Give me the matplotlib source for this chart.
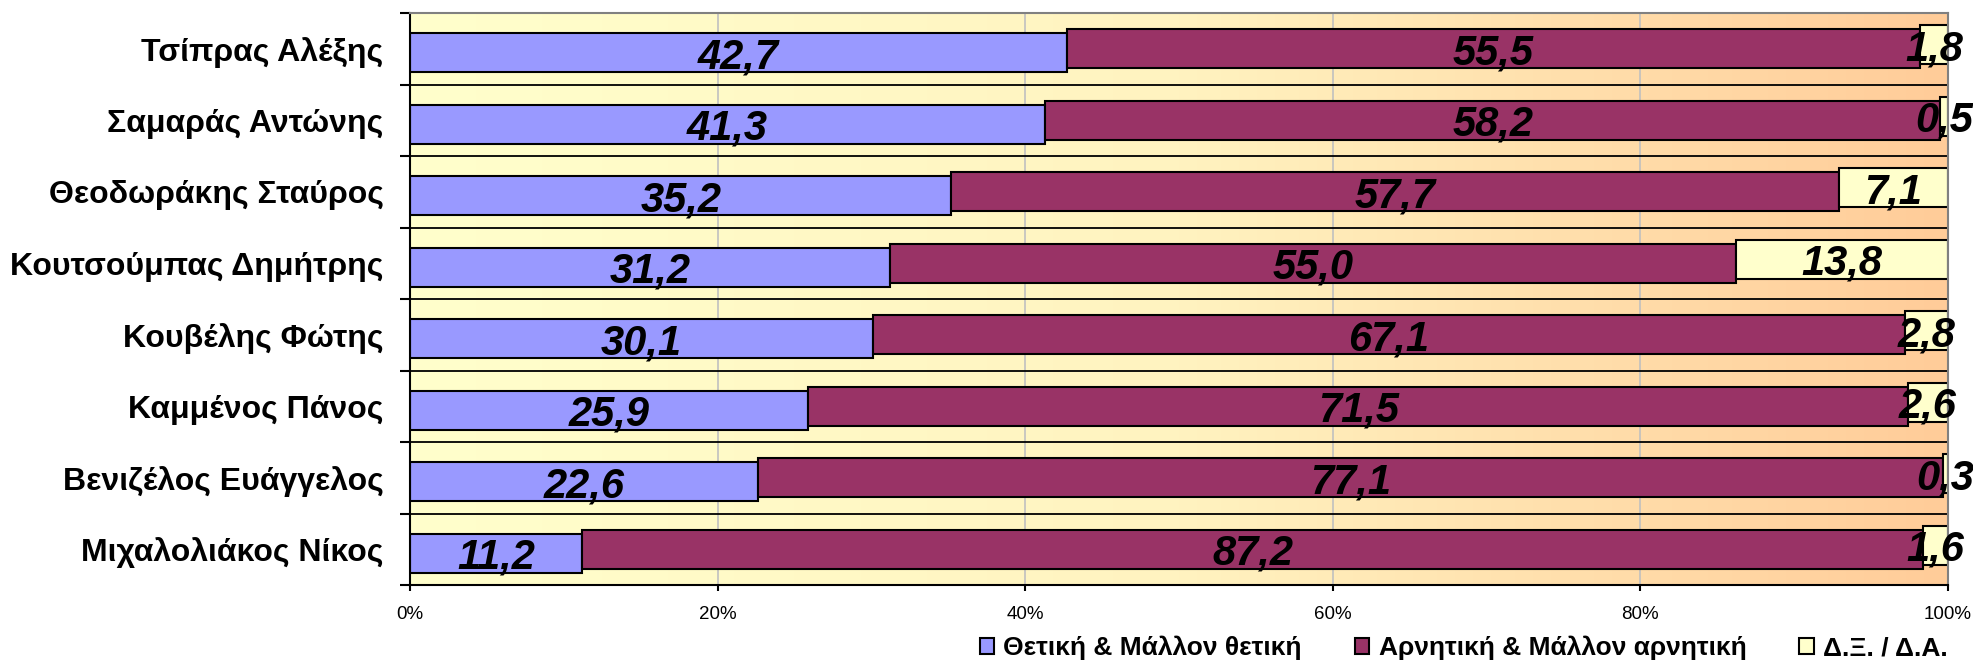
import numpy as np
import matplotlib
matplotlib.use("Agg")
import matplotlib.pyplot as plt
from matplotlib.colors import LinearSegmentedColormap

categories = ["Τσίπρας Αλέξης", "Σαμαράς Αντώνης", "Θεοδωράκης Σταύρος",
              "Κουτσούμπας Δημήτρης", "Κουβέλης Φώτης", "Καμμένος Πάνος",
              "Βενιζέλος Ευάγγελος", "Μιχαλολιάκος Νίκος"]
positive = [42.7, 41.3, 35.2, 31.2, 30.1, 25.9, 22.6, 11.2]
negative = [55.5, 58.2, 57.7, 55.0, 67.1, 71.5, 77.1, 87.2]
dk = [1.8, 0.5, 7.1, 13.8, 2.8, 2.6, 0.3, 1.6]
series_names = ["Θετική & Μάλλον θετική", "Αρνητική & Μάλλον αρνητική", "Δ.Ξ. / Δ.Α."]
colors = ["#9999FF", "#993366", "#FFFFCC"]
xticks = [0, 20, 40, 60, 80, 100]

plt.rcParams['font.family'] = ['Liberation Sans', 'DejaVu Sans']

W, H = 1973, 663
fig = plt.figure(figsize=(W / 100, H / 100), dpi=100)
ax = fig.add_axes([410 / W, 1 - 585 / H, (1948 - 410) / W, (585 - 13) / H])

n = len(categories)
y = np.arange(n)

# gradient background
cmap = LinearSegmentedColormap.from_list("bg", ["#FFFFCC", "#FFF3C0", "#FFCC99"])
grad = np.linspace(0, 1, 256).reshape(1, -1)
ax.imshow(grad, cmap=cmap, aspect='auto', extent=[0, 100, n - 0.5, -0.5], zorder=0)

for xv in xticks[1:-1]:
    ax.axvline(xv, color="#C0C0C0", lw=1.2, zorder=1)
for b in np.arange(n - 1) + 0.5:
    ax.axhline(b, color="black", lw=1.3, zorder=1)

h = 0.545
offs = [0.055, 0.0, -0.055]
data = [positive, negative, dk]
left = np.zeros(n)
for k, (vals, c) in enumerate(zip(data, colors)):
    vals = np.array(vals)
    ax.barh(y + offs[k], vals, left=left, height=h, color=c, edgecolor="black",
            linewidth=1.5, zorder=2, label=series_names[k])
    for i in range(n):
        cx = left[i] + vals[i] / 2
        ax.text(cx, y[i] + offs[k], f"{vals[i]:.1f}".replace(".", ","),
                ha="center", va="center_baseline", fontsize=30, fontweight="bold",
                fontstyle="italic", color="black", zorder=3)
    left = left + vals

ax.set_xlim(0, 100)
ax.set_ylim(n - 0.5, -0.5)
ax.set_xticks(xticks)
ax.set_xticklabels([f"{v}%" for v in xticks], fontsize=13.5)
ax.set_yticks(y)
ax.set_yticklabels(categories, fontsize=23, fontweight="bold")
ax.tick_params(axis='y', length=0, pad=19)
ax.set_yticks(np.arange(n + 1) - 0.5, minor=True)
ax.tick_params(axis='y', which='minor', length=7, width=1.5, direction='out')
ax.tick_params(axis='x', length=4, width=1.5, direction='out', pad=11)

for s in ["left", "bottom"]:
    ax.spines[s].set_color("black")
    ax.spines[s].set_linewidth(1.5)
for s in ["top", "right"]:
    ax.spines[s].set_color("#808080")
    ax.spines[s].set_linewidth(1.5)

leg = fig.legend(loc="lower right", bbox_to_anchor=(1966 / W, -0.024), ncol=3,
                 frameon=False, prop={"family": "Liberation Sans", "size": 19, "weight": "bold"},
                 handlelength=0.55, handleheight=0.55, handletextpad=0.35,
                 columnspacing=2.0, borderpad=0.2)

fig.savefig("out.png", dpi=100)
